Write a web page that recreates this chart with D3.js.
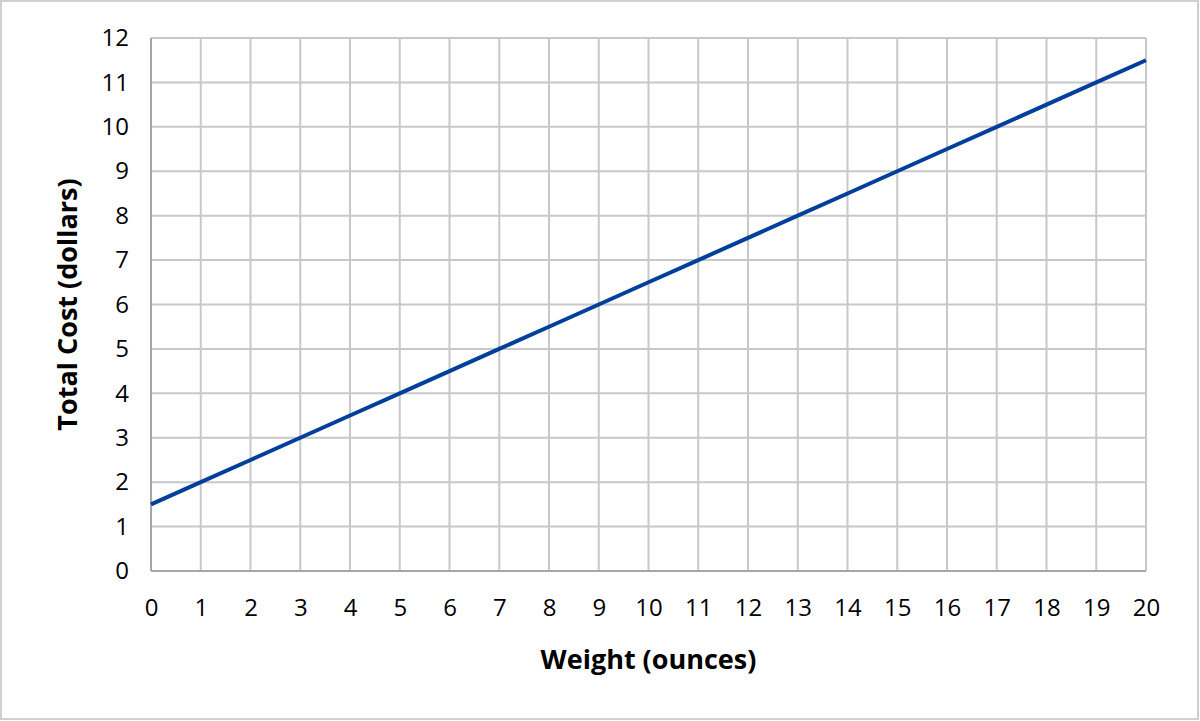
<!DOCTYPE html>
<html>
<head>
  <meta charset="utf-8">
  <style>
    body { margin: 0; background: #fff; }
    text { font-family: "Open Sans", sans-serif; fill: #000; }
  </style>
  <script src="https://d3js.org/d3.v7.min.js"></script>
</head>
<body>
  <div id="chart"></div>
  <script>
    const weights = [0, 1, 2, 3, 4, 5, 6, 7, 8, 9, 10, 11, 12, 13, 14, 15, 16, 17, 18, 19, 20];
    const costs = [1.5, 2, 2.5, 3, 3.5, 4, 4.5, 5, 5.5, 6, 6.5, 7, 7.5, 8, 8.5, 9, 9.5, 10, 10.5, 11, 11.5];
    const xTicks = d3.range(0, 21);
    const yTicks = d3.range(0, 13);

    const W = 1200, H = 721;
    const margin = { top: 38, right: 54, bottom: 150, left: 151 };
    const width = W - margin.left - margin.right;
    const height = H - margin.top - margin.bottom;

    const x = d3.scaleLinear().domain([0, 20]).range([0, width]);
    const y = d3.scaleLinear().domain([0, 12]).range([height, 0]);

    const svg = d3.select('#chart').append('svg')
      .attr('width', W)
      .attr('height', H);

    // outer frame
    svg.append('rect')
      .attr('x', 1).attr('y', 1)
      .attr('width', W - 3).attr('height', H - 3)
      .attr('fill', 'none')
      .attr('stroke', '#d0d0d0')
      .attr('stroke-width', 2);

    const g = svg.append('g')
      .attr('transform', `translate(${margin.left},${margin.top})`);

    // grid
    g.append('g').selectAll('line').data(xTicks).join('line')
      .attr('x1', d => x(d)).attr('x2', d => x(d))
      .attr('y1', 0).attr('y2', height)
      .attr('stroke', '#c8c8c8').attr('stroke-width', 2);
    g.append('g').selectAll('line').data(yTicks).join('line')
      .attr('x1', 0).attr('x2', width)
      .attr('y1', d => y(d)).attr('y2', d => y(d))
      .attr('stroke', '#c8c8c8').attr('stroke-width', 2);

    // axis lines
    g.append('line').attr('x1', 0).attr('x2', 0).attr('y1', 0).attr('y2', height)
      .attr('stroke', '#a6a6a6').attr('stroke-width', 2);
    g.append('line').attr('x1', 0).attr('x2', width).attr('y1', height).attr('y2', height)
      .attr('stroke', '#a6a6a6').attr('stroke-width', 2);

    // tick labels
    const xAxis = g.append('g')
      .attr('transform', `translate(0,${height})`)
      .call(d3.axisBottom(x).tickValues(xTicks).tickSize(0).tickPadding(28));
    const yAxis = g.append('g')
      .call(d3.axisLeft(y).tickValues(yTicks).tickSize(0).tickPadding(22));
    [xAxis, yAxis].forEach(a => {
      a.select('.domain').remove();
      a.selectAll('text').style('font-size', '24px').style('font-family', '"Open Sans", sans-serif');
    });

    // data line
    const line = d3.line().x((d, i) => x(weights[i])).y(d => y(d));
    g.append('path')
      .datum(costs)
      .attr('d', line)
      .attr('fill', 'none')
      .attr('stroke', '#003f9a')
      .attr('stroke-width', 4);

    // axis titles
    svg.append('text')
      .attr('x', margin.left + width / 2)
      .attr('y', 669)
      .attr('text-anchor', 'middle')
      .style('font-size', '27px')
      .style('font-weight', 'bold')
      .text('Weight (ounces)');

    svg.append('text')
      .attr('transform', `translate(77,${margin.top + height / 2}) rotate(-90)`)
      .attr('text-anchor', 'middle')
      .style('font-size', '27px')
      .style('font-weight', 'bold')
      .text('Total Cost (dollars)');
  </script>
</body>
</html>
